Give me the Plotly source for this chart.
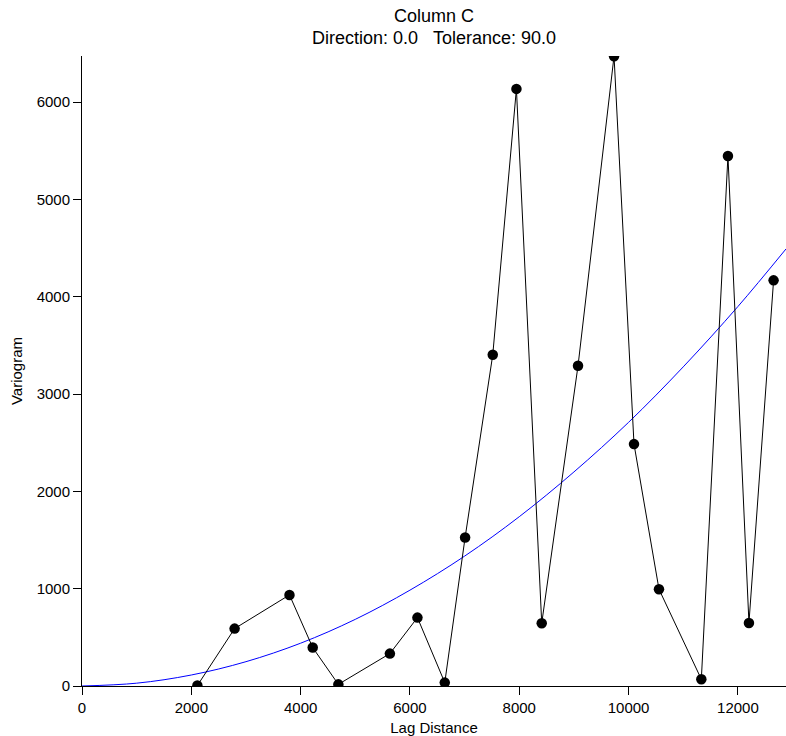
import plotly.graph_objects as go

lag = [2111, 2792, 3796, 4221, 4690, 5633, 6137, 6637, 7009, 7515,
       7948, 8411, 9075, 9734, 10099, 10556, 11331, 11818, 12202, 12653]
gamma = [5, 590, 936, 395, 17, 333, 703, 35, 1526, 3404,
         6137, 645, 3291, 6473, 2486, 995, 69, 5448, 648, 4169]

# Model curve
model_lag = [0, 1000, 2000, 3000, 4000, 5000, 6000, 7000, 8000, 9000,
             10000, 11000, 12000, 12880]
model_gamma = [0, 29, 113, 250, 440, 685, 985, 1335, 1740, 2200,
               2710, 3280, 3900, 4492]

x_ticks = [0, 2000, 4000, 6000, 8000, 10000, 12000]
y_ticks = [0, 1000, 2000, 3000, 4000, 5000, 6000]

title_line1 = "Column C"
title_line2 = "Direction: 0.0&nbsp;&nbsp;&nbsp;Tolerance: 90.0"

font = "Liberation Sans, Arial, sans-serif"

fig = go.Figure()
fig.add_trace(go.Scatter(x=model_lag, y=model_gamma, mode="lines",
                         line=dict(color="#0000ff", width=1, shape="spline"),
                         hoverinfo="skip", showlegend=False))
fig.add_trace(go.Scatter(x=lag, y=gamma, mode="lines+markers",
                         line=dict(color="black", width=1),
                         marker=dict(color="black", size=10.5),
                         showlegend=False))

fig.update_layout(
    width=786, height=736,
    margin=dict(l=82, r=0, t=56, b=50),
    paper_bgcolor="white", plot_bgcolor="white",
    font=dict(family=font, color="black", size=15),
    annotations=[
        dict(text=title_line1, x=0.5, xref="paper", xanchor="center",
             y=(686 - 16) / 630, yref="paper", yanchor="middle",
             showarrow=False, font=dict(size=18, family=font, color="black")),
        dict(text=title_line2, x=0.5, xref="paper", xanchor="center",
             y=(686 - 38) / 630, yref="paper", yanchor="middle",
             showarrow=False, font=dict(size=18, family=font, color="black")),
    ],
)
fig.update_xaxes(range=[0, 12880], tickvals=x_ticks,
                 ticktext=[str(v) for v in x_ticks],
                 showgrid=False, zeroline=False, showline=True,
                 linecolor="black", linewidth=1, ticks="outside",
                 ticklen=8, tickcolor="black", tickfont=dict(size=15),
                 title=dict(text="Lag Distance", font=dict(size=15), standoff=8))
fig.update_yaxes(range=[0, 6475], tickvals=y_ticks,
                 ticktext=[str(v) for v in y_ticks],
                 showgrid=False, zeroline=False, showline=True,
                 linecolor="black", linewidth=1, ticks="outside",
                 ticklen=8, tickcolor="black", tickfont=dict(size=15),
                 title=dict(text="Variogram", font=dict(size=15), standoff=10))

fig.write_html("out.html")
